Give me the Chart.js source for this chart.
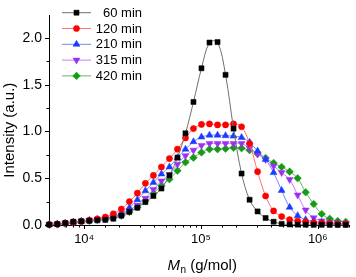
<!DOCTYPE html>
<html><head><meta charset="utf-8">
<script src="https://cdn.jsdelivr.net/npm/chart.js"></script>
<style>html,body{margin:0;padding:0;background:#fff;overflow:hidden}</style>
</head><body>
<canvas id="c" width="356" height="277" style="display:block;width:356px;height:277px"></canvas>
<script>
// ---- data ----
const mnValues = [5023, 5885, 6890, 8067, 9450, 11066, 12960, 15180, 17775, 20820, 24380, 28550, 33440, 39160, 45860, 53700, 62890, 73650, 86260, 101000, 118300, 138600, 162300, 190000, 222600, 260600, 305200, 357500, 418600, 490300, 574100, 672400, 787400, 922100, 1080000, 1265000, 1481000, 1735000];
const int60  = [0.005,0.01,0.02,0.035,0.04,0.045,0.05,0.055,0.067,0.10,0.14,0.185,0.245,0.31,0.39,0.53,0.72,0.98,1.315,1.675,1.95,1.955,1.605,1.03,0.55,0.27,0.145,0.075,0.035,0.012,0.006,0.004,0.003,0.002,0.002,0.001,0.001,0.001];
const int120 = [0.005,0.01,0.02,0.03,0.04,0.05,0.065,0.085,0.12,0.17,0.25,0.34,0.445,0.53,0.62,0.71,0.81,0.93,1.03,1.075,1.08,1.07,1.07,1.08,1.05,0.87,0.57,0.31,0.15,0.09,0.057,0.043,0.033,0.025,0.02,0.015,0.01,0.01];
const int210 = [0.005,0.01,0.02,0.03,0.04,0.05,0.06,0.073,0.097,0.123,0.185,0.27,0.365,0.455,0.545,0.62,0.72,0.81,0.89,0.94,0.96,0.96,0.955,0.95,0.935,0.885,0.79,0.70,0.56,0.37,0.19,0.10,0.057,0.04,0.03,0.02,0.015,0.01];
const int315 = [0.005,0.01,0.02,0.03,0.04,0.05,0.06,0.067,0.09,0.11,0.158,0.21,0.285,0.38,0.47,0.54,0.65,0.74,0.80,0.85,0.87,0.87,0.87,0.87,0.87,0.82,0.76,0.70,0.63,0.56,0.485,0.32,0.16,0.077,0.043,0.03,0.02,0.015];
const int420 = [0.005,0.008,0.015,0.025,0.035,0.045,0.055,0.065,0.08,0.10,0.14,0.19,0.26,0.34,0.42,0.49,0.58,0.67,0.72,0.775,0.81,0.81,0.815,0.825,0.82,0.80,0.76,0.716,0.663,0.62,0.57,0.50,0.35,0.224,0.117,0.067,0.043,0.033];
const seriesLabels = ['60 min', '120 min', '210 min', '315 min', '420 min'];
const xTickValues = [1e4, 1e5, 1e6];
const xTickLabels = ['10\u2074', '10\u2075', '10\u2076'];
const yTickValues = [0, 0.5, 1.0, 1.5, 2.0];
const yTickLabels = ['0.0', '0.5', '1.0', '1.5', '2.0'];
const yTitle = 'Intensity (a.u.)';
const xTitleMain = 'M', xTitleSub = 'n', xTitleRest = ' (g/mol)';

// ---- styles ----
const FONT = "'Liberation Sans', Arial, sans-serif";
const styles = [
  {c:'#000000', l:'#707070', ps:'rect',     r:3.6, rot:0},
  {c:'#ff0000', l:'#ff7070', ps:'circle',   r:3.1, rot:0},
  {c:'#1a3cff', l:'#7088ff', ps:'triangle', r:4.0, rot:0},
  {c:'#9a30f0', l:'#c080ff', ps:'triangle', r:4.0, rot:180},
  {c:'#169a16', l:'#60b860', ps:'rectRot',  r:3.8, rot:0}
];
const allSeries = [int60, int120, int210, int315, int420];

const datasets = allSeries.map((s, i) => ({
  label: seriesLabels[i],
  data: mnValues.map((x, j) => ({x: x, y: s[j]})),
  borderColor: styles[i].l,
  borderWidth: 1,
  backgroundColor: styles[i].c,
  pointBackgroundColor: styles[i].c,
  pointBorderColor: styles[i].c,
  pointBorderWidth: 0.5,
  pointStyle: styles[i].ps,
  pointRotation: styles[i].rot,
  pointRadius: styles[i].r,
  tension: 0.35,
  clip: false,
  fill: false
}));

const isPow10 = v => Math.abs(Math.log10(v) - Math.round(Math.log10(v))) < 1e-9;

const decor = {
  id: 'decor',
  afterDraw(chart) {
    const ctx = chart.ctx, xs = chart.scales.x, ys = chart.scales.y;
    ctx.save();
    ctx.strokeStyle = '#000'; ctx.lineWidth = 1;
    // x ticks (outward)
    xs.ticks.forEach(t => {
      const v = t.value; if (v < xs.min || v > xs.max) return;
      const px = Math.round(xs.getPixelForValue(v)) + 0.5;
      const len = isPow10(v) ? 4 : 2.5;
      ctx.beginPath(); ctx.moveTo(px, ys.bottom); ctx.lineTo(px, ys.bottom + len); ctx.stroke();
    });
    // y ticks (outward)
    ys.ticks.forEach(t => {
      const v = t.value;
      if (Math.abs(v / 0.25 - Math.round(v / 0.25)) > 1e-6) return;
      const py = Math.round(ys.getPixelForValue(v)) + 0.5;
      const major = Math.abs(v / 0.5 - Math.round(v / 0.5)) < 1e-6;
      const len = major ? 4 : 2.5;
      ctx.beginPath(); ctx.moveTo(xs.left, py); ctx.lineTo(xs.left - len, py); ctx.stroke();
    });
    // y title
    ctx.fillStyle = '#000';
    ctx.font = '15px ' + FONT;
    ctx.textAlign = 'center'; ctx.textBaseline = 'alphabetic';
    ctx.save();
    ctx.translate(13.5, (ys.top + ys.bottom) / 2 + 10);
    ctx.rotate(-Math.PI / 2);
    ctx.fillText(yTitle, 0, 0);
    ctx.restore();
    // x title with italic M and subscript n
    ctx.textAlign = 'left';
    const fM = 'italic 15px ' + FONT, fS = '10px ' + FONT, fR = '15px ' + FONT;
    ctx.font = fM; const wM = ctx.measureText(xTitleMain).width;
    ctx.font = fS; const wS = ctx.measureText(xTitleSub).width;
    ctx.font = fR; const wR = ctx.measureText(xTitleRest).width;
    let x0 = 202 - (wM + wS + wR) / 2; const base = 270;
    ctx.font = fM; ctx.fillText(xTitleMain, x0, base); x0 += wM + 0.5;
    ctx.font = fS; ctx.fillText(xTitleSub, x0, base + 2.5); x0 += wS;
    ctx.font = fR; ctx.fillText(xTitleRest, x0, base);
    // legend
    const rowY = [12.7, 28.5, 44.3, 60.1, 75.9];
    ctx.font = '13px ' + FONT; ctx.textAlign = 'right'; ctx.textBaseline = 'middle';
    chart.data.datasets.forEach((ds, i) => {
      const y = rowY[i];
      ctx.strokeStyle = styles[i].l; ctx.lineWidth = 1;
      ctx.beginPath(); ctx.moveTo(62, y); ctx.lineTo(91, y); ctx.stroke();
      ctx.fillStyle = styles[i].c; ctx.strokeStyle = styles[i].c; ctx.lineWidth = 0.5;
      Chart.helpers.drawPoint(ctx, {pointStyle: styles[i].ps, radius: styles[i].r, rotation: styles[i].rot, borderWidth: 0.5}, 76.5, y);
      ctx.fillStyle = '#000';
      ctx.fillText(ds.label, 142, y + 0.5);
    });
    ctx.restore();
  }
};

new Chart(document.getElementById('c'), {
  type: 'line',
  data: {datasets: datasets},
  plugins: [decor],
  options: {
    responsive: false,
    animation: false,
    devicePixelRatio: 1,
    layout: {padding: {top: 2, left: 0, right: 0, bottom: 0}},
    plugins: {legend: {display: false}, tooltip: {enabled: false}, title: {display: false}},
    scales: {
      x: {
        type: 'logarithmic', min: 5000, max: 1.85e6,
        grid: {display: false, drawTicks: false},
        border: {display: true, color: '#000', width: 1},
        ticks: {
          autoSkip: false, maxRotation: 0, minRotation: 0, padding: 7,
          color: '#000', font: {family: FONT, size: 13},
          callback: (v) => { const i = xTickValues.findIndex(t => Math.abs(t - v) < 1e-6 * t); return i >= 0 ? xTickLabels[i] : ''; }
        },
        afterFit: (s) => { s.height = 52; }
      },
      y: {
        min: 0, max: 2.24,
        grid: {display: false, drawTicks: false},
        border: {display: true, color: '#000', width: 1},
        ticks: {
          stepSize: 0.25, includeBounds: false, padding: 7,
          color: '#000', font: {family: FONT, size: 14},
          callback: (v) => { const i = yTickValues.findIndex(t => Math.abs(t - v) < 1e-6); return i >= 0 ? yTickLabels[i] : ''; }
        },
        afterFit: (s) => { s.width = 49; }
      }
    }
  }
});
</script>
</body></html>
